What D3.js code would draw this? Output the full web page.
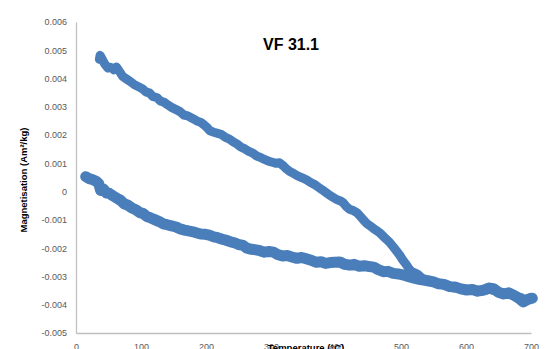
<!DOCTYPE html>
<html>
<head>
<meta charset="utf-8">
<script src="https://cdn.jsdelivr.net/npm/d3@7"></script>
<style>
  html, body { margin: 0; padding: 0; background: #ffffff; }
  svg { display: block; }
</style>
</head>
<body>
<svg id="chart" width="548" height="349"></svg>
<script>
// Thermomagnetic curve of sample VF 31.1: heating and cooling runs
const chartTitle = "VF 31.1";
const xTitle = "Temperature (°C)";
const yTitle = "Magnetisation (Am²/kg)";

const xTicks = [0, 100, 200, 300, 400, 500, 600, 700];
const xTickLabels = ["0", "100", "200", "300", "400", "500", "600", "700"];
const yTicks = [-0.005, -0.004, -0.003, -0.002, -0.001, 0, 0.001, 0.002, 0.003, 0.004, 0.005, 0.006];
const yTickLabels = ["-0.005", "-0.004", "-0.003", "-0.002", "-0.001", "0", "0.001", "0.002", "0.003", "0.004", "0.005", "0.006"];

// Heating run (lower branch), temperature in °C
const heatTemp = [15, 20, 25, 31, 35, 38, 42, 47, 51, 57, 62, 68, 74, 80, 86, 92, 98, 103, 109, 115,
  121, 128, 134, 140, 147, 154, 160, 167, 173, 180, 186, 192, 199, 205, 212, 218, 225, 231, 238, 244,
  250, 257, 263, 270, 277, 283, 290, 297, 304, 310, 318, 325, 332, 340, 347, 355, 362, 370, 377, 384,
  391, 398, 406, 413, 421, 428, 436, 444, 451, 458, 465, 473, 480, 488, 496, 504, 512, 520, 528, 535,
  543, 550, 558, 566, 575, 583, 592, 601, 610, 618, 627, 635, 642, 650, 658, 666, 674, 682, 688, 695, 702];
const heatMag = [0.00053, 0.00046, 0.00043, 0.00037, 0.00028, 0.00004, 0.00010, -0.00005, -0.00006, -0.00015,
  -0.00022, -0.00030, -0.00043, -0.00048, -0.00058, -0.00064, -0.00074, -0.00077, -0.00088, -0.00093,
  -0.00099, -0.00106, -0.00114, -0.00117, -0.00121, -0.00125, -0.00132, -0.00136, -0.00139, -0.00142,
  -0.00146, -0.00150, -0.00151, -0.00154, -0.00160, -0.00163, -0.00168, -0.00172, -0.00178, -0.00181,
  -0.00187, -0.00190, -0.00200, -0.00204, -0.00206, -0.00209, -0.00214, -0.00212, -0.00214, -0.00222,
  -0.00228, -0.00226, -0.00231, -0.00236, -0.00233, -0.00238, -0.00243, -0.00250, -0.00248, -0.00254,
  -0.00251, -0.00250, -0.00249, -0.00257, -0.00260, -0.00257, -0.00264, -0.00262, -0.00265, -0.00267,
  -0.00276, -0.00283, -0.00282, -0.00289, -0.00291, -0.00295, -0.00301, -0.00306, -0.00310, -0.00313,
  -0.00316, -0.00319, -0.00326, -0.00328, -0.00336, -0.00337, -0.00344, -0.00348, -0.00346, -0.00352,
  -0.00348, -0.00341, -0.00343, -0.00356, -0.00362, -0.00358, -0.00367, -0.00378, -0.00390, -0.00381, -0.00377];

// Cooling run (upper branch), temperature in °C
const coolTemp = [36, 37, 40, 44, 49, 53, 58, 62, 66, 72, 78, 84, 90, 97, 102, 108, 113, 118, 125, 130,
  135, 141, 147, 154, 160, 166, 172, 180, 186, 192, 197, 202, 206, 212, 218, 224, 230, 236, 242, 248,
  254, 260, 266, 272, 278, 284, 290, 296, 302, 308, 313, 318, 323, 329, 335, 341, 348, 355, 361, 368,
  375, 381, 388, 394, 401, 406, 411, 416, 421, 426, 432, 438, 443, 447, 453, 460, 468, 475, 482, 488,
  494, 499, 503, 508, 512, 516, 521, 526, 532, 540, 550, 560, 570, 580, 590, 600, 612, 624, 636, 645,
  655, 665, 675, 685, 692, 700];
const coolMag = [0.00468, 0.00482, 0.00470, 0.00452, 0.00437, 0.00440, 0.00431, 0.00441, 0.00428, 0.00407,
  0.00398, 0.00389, 0.00378, 0.00370, 0.00364, 0.00352, 0.00349, 0.00337, 0.00332, 0.00320,
  0.00317, 0.00307, 0.00298, 0.00290, 0.00283, 0.00271, 0.00268, 0.00258, 0.00250, 0.00245,
  0.00236, 0.00226, 0.00215, 0.00210, 0.00206, 0.00202, 0.00192, 0.00186, 0.00176, 0.00168,
  0.00157, 0.00151, 0.00142, 0.00136, 0.00126, 0.00121, 0.00114, 0.00108, 0.00104, 0.00100,
  0.00102, 0.00093, 0.00082, 0.00071, 0.00064, 0.00056, 0.00049, 0.00041, 0.00032, 0.00024,
  0.00012, 0.00003, -0.00009, -0.00018, -0.00028, -0.00032, -0.00039, -0.00053, -0.00063, -0.00066,
  -0.00074, -0.00089, -0.00102, -0.00112, -0.00122, -0.00134, -0.00147, -0.00163, -0.00178, -0.00195,
  -0.00213, -0.00228, -0.00243, -0.00258, -0.00272, -0.00282, -0.00287, -0.00293, -0.00305, -0.00312,
  -0.00320, -0.00326, -0.00333, -0.00340, -0.00342, -0.00345, -0.00350, -0.00352, -0.00346, -0.00351,
  -0.00362, -0.00360, -0.00370, -0.00375, -0.00386, -0.00374];

const blue = "#4a7ebb";
const axisGrey = "#bfbfbf";
const labelGrey = "#595959";
const font = "'Liberation Sans', Arial, sans-serif";

const svg = d3.select("#chart");

const x = d3.scaleLinear().domain([0, 700]).range([76, 531]);
const y = d3.scaleLinear().domain([-0.005, 0.006]).range([333, 22]);

// Y axis
const yAxis = d3.axisLeft(y)
  .tickValues(yTicks)
  .tickFormat((d, i) => yTickLabels[i])
  .tickSize(0)
  .tickSizeOuter(0)
  .tickPadding(9);
const gy = svg.append("g").attr("transform", `translate(${x(0)},0)`).call(yAxis);
gy.select(".domain").attr("stroke", axisGrey).attr("stroke-width", 1.3);
gy.selectAll("text").attr("fill", labelGrey).style("font-family", font).style("font-size", "9px");

// X axis
const xAxis = d3.axisBottom(x)
  .tickValues(xTicks)
  .tickFormat((d, i) => xTickLabels[i])
  .tickSize(0)
  .tickSizeOuter(0)
  .tickPadding(11);
const gx = svg.append("g").attr("transform", `translate(0,${y(-0.005)})`).call(xAxis);
gx.select(".domain").attr("stroke", axisGrey).attr("stroke-width", 1.3);
gx.selectAll("text").attr("fill", labelGrey).style("font-family", font).style("font-size", "9px");

// Curves
const line = d3.line().x(d => x(d[0])).y(d => y(d[1])).curve(d3.curveLinear);
const heating = heatTemp.map((t, i) => [t, heatMag[i]]);
const cooling = coolTemp.map((t, i) => [t, coolMag[i]]);

svg.append("path").datum(heating)
  .attr("d", line)
  .attr("fill", "none")
  .attr("stroke", blue)
  .attr("stroke-width", 11)
  .attr("stroke-linejoin", "round")
  .attr("stroke-linecap", "round");

svg.append("path").datum(cooling)
  .attr("d", line)
  .attr("fill", "none")
  .attr("stroke", blue)
  .attr("stroke-width", 9)
  .attr("stroke-linejoin", "round")
  .attr("stroke-linecap", "round");

// Titles
svg.append("text")
  .attr("x", 291).attr("y", 50)
  .attr("text-anchor", "middle")
  .style("font-family", font).style("font-size", "16px").style("font-weight", "bold")
  .attr("fill", "#000")
  .text(chartTitle);

svg.append("text")
  .attr("x", 306).attr("y", 351)
  .attr("text-anchor", "middle")
  .style("font-family", font).style("font-size", "9.5px").style("font-weight", "bold")
  .attr("fill", "#000")
  .text(xTitle);

svg.append("text")
  .attr("transform", "translate(27,180) rotate(-90)")
  .attr("text-anchor", "middle")
  .style("font-family", font).style("font-size", "9.5px").style("font-weight", "bold")
  .attr("fill", "#000")
  .text(yTitle);
</script>
</body>
</html>
